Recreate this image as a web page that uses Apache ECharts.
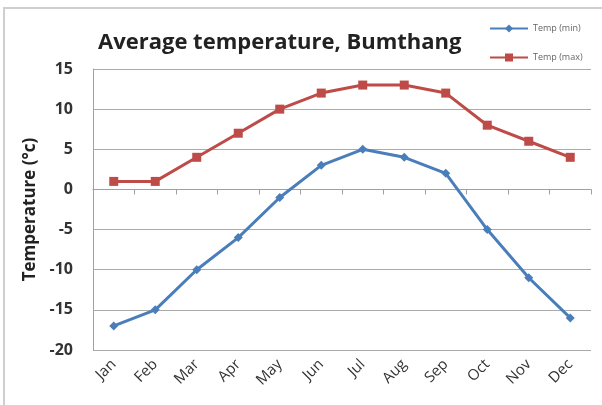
<!DOCTYPE html>
<html><head><meta charset="utf-8">
<script src="https://cdn.jsdelivr.net/npm/echarts@6/dist/echarts.min.js"></script>
<style>html,body{margin:0;padding:0;background:#fff}#c{width:602px;height:405px}</style>
</head><body><div id="c"></div>
<script>
const months = ['Jan','Feb','Mar','Apr','May','Jun','Jul','Aug','Sep','Oct','Nov','Dec'];
const tempMin = [-17,-15,-10,-6,-1,3,5,4,2,-5,-11,-16];
const tempMax = [1,1,4,7,10,12,13,13,12,8,6,4];
const yTicks = {min:-20, max:15, interval:5};

const chart = echarts.init(document.getElementById('c'));
const font = '"Open Sans", "Noto Sans", sans-serif';
chart.setOption({
  animation:false,
  backgroundColor:'#fff',
  graphic:[{type:'rect',shape:{x:4,y:8,width:640,height:440},style:{fill:'none',stroke:'#cfcfcf',lineWidth:2},silent:true}],
  title:{text:'Average temperature, Bumthang',left:93,top:27,textStyle:{fontFamily:font,fontSize:22,fontWeight:'bold',color:'#222'}},
  legend:{orient:'vertical',left:484,top:19,itemGap:20,itemWidth:38,itemHeight:10,
    textStyle:{fontFamily:font,fontSize:9,color:'#666'},
    data:['Temp (min)','Temp (max)']},
  grid:{left:93,right:11,top:69,bottom:55,containLabel:false},
  xAxis:[
    {type:'category',data:months,boundaryGap:true,
     axisLine:{onZero:true,lineStyle:{color:'#a0a0a0',width:1}},
     axisTick:{show:true,alignWithLabel:false,length:5,lineStyle:{color:'#a0a0a0'}},
     axisLabel:{show:false},splitLine:{show:false}},
    {type:'category',data:months,boundaryGap:true,position:'bottom',
     axisLine:{show:false,onZero:false},axisTick:{show:false},
     axisLabel:{rotate:45,margin:12,fontFamily:font,fontSize:15,color:'#333'}}
  ],
  yAxis:{type:'value',min:yTicks.min,max:yTicks.max,interval:yTicks.interval,
    name:'Temperature (°c)',nameLocation:'middle',nameGap:54,
    nameTextStyle:{fontFamily:font,fontSize:17,fontWeight:'bold',color:'#222'},
    axisLine:{show:true,lineStyle:{color:'#a0a0a0'}},axisTick:{show:false},
    axisLabel:{margin:20,fontFamily:font,fontSize:16,fontWeight:'bold',color:'#333'},
    splitLine:{show:true,lineStyle:{color:'#ababab',width:1}}},
  series:[
    {name:'Temp (min)',type:'line',xAxisIndex:0,data:tempMin,symbol:'diamond',symbolSize:9,
     lineStyle:{color:'#4a7ebb',width:3},itemStyle:{color:'#4a7ebb'}},
    {name:'Temp (max)',type:'line',xAxisIndex:0,data:tempMax,symbol:'rect',symbolSize:9,
     lineStyle:{color:'#be4b48',width:3},itemStyle:{color:'#be4b48'}}
  ]
});
</script></body></html>
